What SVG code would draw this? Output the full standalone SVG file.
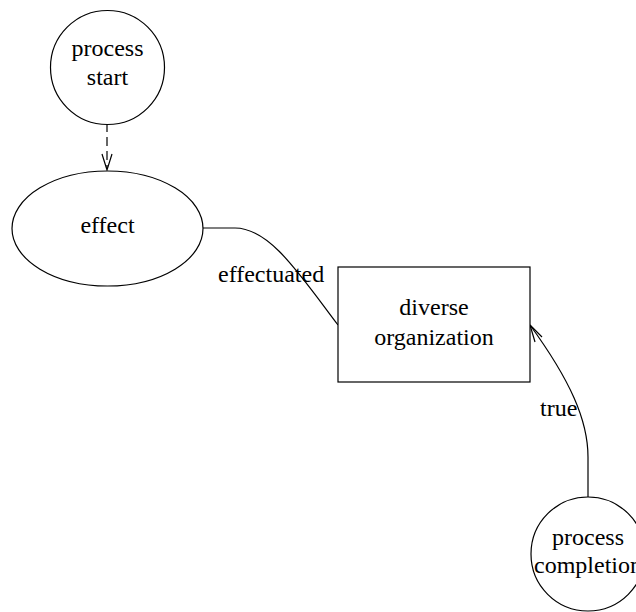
<svg xmlns="http://www.w3.org/2000/svg" width="636" height="612" viewBox="0 0 636 612">
<style>
.n{fill:#fff;stroke:#000;stroke-width:1.2}
.e{fill:none;stroke:#000;stroke-width:1.2}
text{font-family:"Liberation Serif","Times New Roman",serif;font-size:24px;fill:#000}
.c{text-anchor:middle}
</style>
<rect width="636" height="612" fill="#fff"/>
<g id="connectors">
<path class="e" d="M107,123 L107,168" stroke-dasharray="9,5"/>
<path class="e" d="M102,154 L107,170 L112,154"/>
<path class="e" d="M203,228 L235,228 C270,228 300,275 338,325"/>
<path class="e" d="M588,497 L588,457 C588,420 570,380 530,325"/>
<path class="e" d="M535,342 L530,325 L542,337"/>
<text x="218" y="282">effectuated</text>
<text x="540" y="416">true</text>
</g>
<g id="process-start">
<circle class="n" cx="107.5" cy="67.5" r="57"/>
<text class="c" x="107.5" y="56">process</text>
<text class="c" x="107.5" y="85">start</text>
</g>
<g id="effect">
<ellipse class="n" cx="107.5" cy="228.5" rx="95.5" ry="57.5"/>
<text class="c" x="107.5" y="233">effect</text>
</g>
<g id="diverse-organization">
<rect class="n" x="338" y="267" width="192" height="115"/>
<text class="c" x="434" y="315">diverse</text>
<text class="c" x="434" y="345">organization</text>
</g>
<g id="process-completion">
<circle class="n" cx="588" cy="554" r="57"/>
<text class="c" x="588" y="545">process</text>
<text class="c" x="588" y="573">completion</text>
</g>
</svg>
